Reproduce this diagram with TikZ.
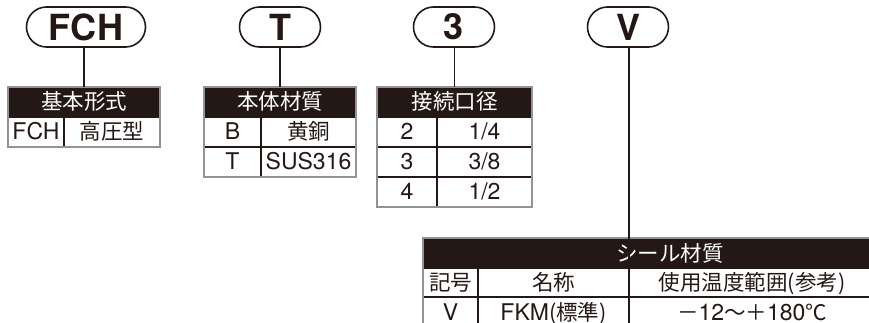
\documentclass[tikz,border=0pt]{standalone}
\usepackage{fontspec}
\setmainfont{TeX Gyre Heros}
\newfontfamily\jpfam{Noto Sans CJK JP}
\newcommand{\jp}{\jpfam\fontsize{21.5}{21.5}\selectfont}
\definecolor{ink}{HTML}{231815}
\begin{document}
\begin{tikzpicture}[x=1pt,y=-1pt]

      \tikzset{pill/.style={draw=ink, line width=1.6pt, rounded corners=20pt, minimum width=81pt, minimum height=40pt, inner sep=0pt, font=\fontsize{36}{36}\selectfont\bfseries, text=ink},
               cell/.style={draw=ink, line width=1.4pt, minimum height=30pt, inner sep=0pt, outer sep=0pt, anchor=north west, text height=18pt, text depth=2pt, font=\fontsize{23}{23}\selectfont, text=ink},
               hdr/.style={cell, fill=ink, text=white},
               frame/.style={draw=gray!85, line width=1.2pt},
               link/.style={draw=ink, line width=1.2pt}}

      \useasboundingbox (0,0) rectangle (869,323);
      \clip (0,0) rectangle (869,323);

%% Codes
      	\node[pill, minimum width=119pt] (pFCH) at (86,27) {FCH};
      	\node[pill] (pT) at (280,27) {T};
      	\node[pill] (p3) at (454,27) {3};
      	\node[pill] (pV) at (628,27) {V};

%% Basic type
      	\node[hdr, minimum width=152pt] (h1) at (8,87) {\jp 基本形式};
      	\node[cell, minimum width=56pt] (a11) at (8,117) {FCH};
      	\node[cell, minimum width=96pt] (a12) at (64,117) {\jp 高圧型};
      	\draw[frame] (h1.north west) rectangle (a12.south east);

%% Body material
      	\node[hdr, minimum width=152pt] (h2) at (204,87) {\jp 本体材質};
      	\node[cell, minimum width=57pt] (b11) at (204,117) {B};
      	\node[cell, minimum width=95pt] (b12) at (261,117) {\jp 黄銅};
      	\node[cell, minimum width=57pt] (b21) at (204,147) {T};
      	\node[cell, minimum width=95pt] (b22) at (261,147) {SUS316};
      	\draw[frame] (h2.north west) rectangle (b22.south east);

%% Port size
      	\node[hdr, minimum width=155pt] (h3) at (377,87) {\jp 接続口径};
      	\node[cell, minimum width=60pt] (c11) at (377,117) {2};
      	\node[cell, minimum width=95pt] (c12) at (437,117) {1/4};
      	\node[cell, minimum width=60pt] (c21) at (377,147) {3};
      	\node[cell, minimum width=95pt] (c22) at (437,147) {3/8};
      	\node[cell, minimum width=60pt] (c31) at (377,177) {4};
      	\node[cell, minimum width=95pt] (c32) at (437,177) {1/2};
      	\draw[frame] (h3.north west) rectangle (c32.south east);

%% Seal material
      	\node[hdr, minimum width=494pt] (h4) at (423,238) {};
      	\node[text=white, font=\jp, anchor=base] (h4t) at (670,261) {シール材質};
      	\node[cell, minimum width=55pt] (d11) at (423,267) {\jp 記号};
      	\node[cell, minimum width=151pt] (d12) at (478,267) {\jp 名称};
      	\node[cell, minimum width=246pt] (d13) at (629,267) {\jp 使用温度範囲(参考)};
      	\node[cell, minimum width=55pt] (d21) at (423,297) {V};
      	\node[cell, minimum width=151pt] (d22) at (478,297) {FKM\jp (標準)};
      	\node[cell, minimum width=246pt] (d23) at (629,297) {\jp －\rmfamily\fontsize{23}{23}\selectfont 12\jp ～＋\rmfamily\fontsize{23}{23}\selectfont 180\jp ℃};
      	\draw[frame] (h4.north west) rectangle (d23.south east);

%Links
		\draw[link] (pFCH.south -| h1.north) -- (h1.north);
		\draw[link] (pT.south -| h2.north) -- (h2.north);
		\draw[link] (p3.south -| h3.north) -- (h3.north);
		\draw[link] (pV.south -| d13.north west) -- (d13.north west);
	\end{tikzpicture}
\end{document}
